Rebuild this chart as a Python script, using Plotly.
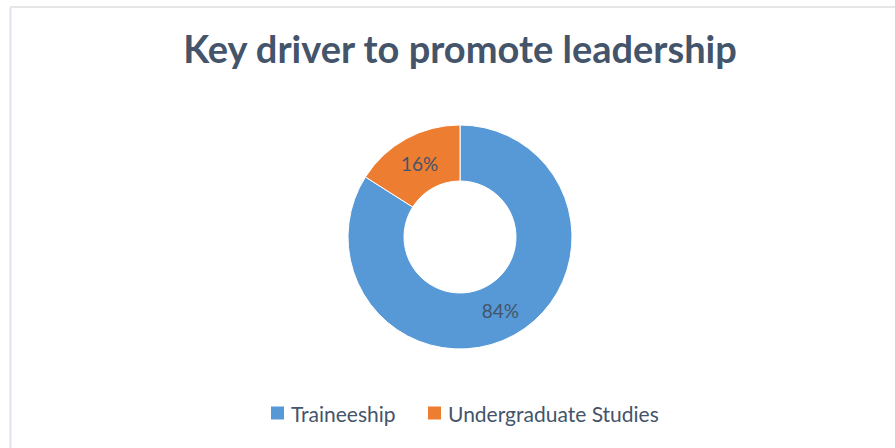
import plotly.graph_objects as go

categories = ["Traineeship", "Undergraduate Studies"]
values = [84, 16]
colors = ["#5699D6", "#ED7D31"]
title_text = "Key driver to promote leadership"

W, H = 895, 448
cx, cy, r = 460, 237, 112

fig = go.Figure()
fig.add_trace(go.Pie(
    labels=categories,
    values=values,
    hole=0.5,
    sort=False,
    direction="clockwise",
    rotation=0,
    marker=dict(colors=colors, line=dict(color="white", width=1)),
    textinfo="percent",
    texttemplate="%{percent:.0%}",
    textposition="inside",
    insidetextorientation="horizontal",
    textfont=dict(family="Lato", size=19, color="#44546A"),
    domain=dict(x=[(cx - r) / W, (cx + r) / W], y=[1 - (cy + r) / H, 1 - (cy - r) / H]),
    hoverinfo="label+percent",
    showlegend=False,
))

# custom legend (square marker + label), built from the category list
legend_x = [271, 428]
legend_y = 413
shapes = [
    dict(type="line", xref="paper", yref="paper", x0=10.5 / W, x1=1, y0=1 - 7 / H, y1=1 - 7 / H,
         line=dict(color="#E6E6E6", width=2)),
    dict(type="line", xref="paper", yref="paper", x0=10.5 / W, x1=10.5 / W, y0=0, y1=1 - 7 / H,
         line=dict(color="#DEE3EC", width=2)),
]
annotations = []
for lab, col, lx in zip(categories, colors, legend_x):
    shapes.append(dict(type="rect", xref="paper", yref="paper",
                       x0=lx / W, x1=(lx + 13) / W,
                       y0=1 - (legend_y + 6.5) / H, y1=1 - (legend_y - 6.5) / H,
                       fillcolor=col, line=dict(width=0)))
    annotations.append(dict(text=lab, xref="paper", yref="paper",
                            x=(lx + 18) / W, y=1 - legend_y / H,
                            xanchor="left", yanchor="middle", showarrow=False,
                            font=dict(family="Lato", size=21, color="#44546A")))

fig.update_layout(
    width=W, height=H,
    margin=dict(l=0, r=0, t=0, b=0),
    paper_bgcolor="white",
    plot_bgcolor="white",
    title=dict(text="<b>" + title_text + "</b>", x=460 / W, xanchor="center",
               y=1 - 50 / H, yanchor="middle",
               font=dict(family="Lato", size=38, color="#44546A")),
    showlegend=False,
    shapes=shapes,
    annotations=annotations,
)

fig.write_html("out.html", config={"displayModeBar": False},
               post_script="document.body.style.margin='0';")
